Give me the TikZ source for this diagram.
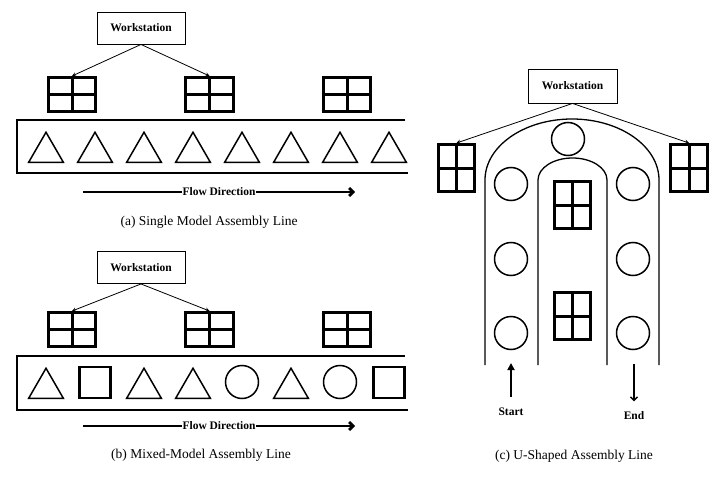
\documentclass[tikz,border=0pt]{standalone}
\usepackage{fontspec}
\setmainfont{Liberation Serif}
\usetikzlibrary{shapes,arrows,arrows.meta,positioning,calc}

\begin{document}
\begin{tikzpicture}[
    x=1pt, y=1pt,
    wsbox/.style={rectangle, draw, line width=0.9pt, minimum width=88pt, minimum height=32pt, font=\fontsize{11.5}{13}\selectfont\bfseries},
    station/.style={rectangle, draw, line width=3pt, minimum width=47.5pt, minimum height=34pt, inner sep=0pt,
        path picture={\draw[line width=3pt] (path picture bounding box.north) -- (path picture bounding box.south)
                      (path picture bounding box.west) -- (path picture bounding box.east);}},
    tstation/.style={station, minimum width=36.5pt, minimum height=47pt},
    tri/.style={regular polygon, regular polygon sides=3, draw, line width=1.5pt, minimum size=40pt, inner sep=0pt, anchor=side 2},
    sq/.style={rectangle, draw, line width=2.7pt, minimum size=31pt, inner sep=0pt},
    part/.style={circle, draw, line width=1.5pt, minimum size=33pt, inner sep=0pt},
    belt/.style={line width=2.8pt},
    lane/.style={line width=1.3pt},
    arrow/.style={->,>=stealth, line width=0.8pt},
    flow/.style={-{Straight Barb[length=4pt,width=8pt]}, line width=2.8pt},
    lbl/.style={font=\fontsize{11.5}{13}\selectfont\bfseries},
    caption/.style={font=\fontsize{13.5}{15}\selectfont}
]
\useasboundingbox (0,0) rectangle (723,-487);

% (a) Single model line
\node[wsbox] (wsA) at (141,-28) {Workstation};
\node[station] (sA1) at (72,-94.5) {};
\node[station] (sA2) at (209.5,-94.5) {};
\node[station] (sA3) at (347,-94.5) {};
\draw[arrow] (wsA.south) -- (sA1.north);
\draw[arrow] (wsA.south) -- (sA2.north);
\draw[belt] (405,-120) -| (17,-173) -- (408,-173);
\foreach \i in {0,...,7} {
    \node[tri] (tA\i) at (46+49*\i,-163) {};
}
\coordinate (fA0) at (83,-192);
\coordinate (fA1) at (355,-192);
\draw[flow] (fA0) -- node[lbl, fill=white, inner sep=0.3pt] {Flow Direction} (fA1);
\node[caption] (capA) at (209,-222) {(a) Single Model Assembly Line};

% (b) Mixed-model line
\node[wsbox] (wsB) at (141,-267.5) {Workstation};
\node[station] (sB1) at (72,-329.5) {};
\node[station] (sB2) at (209.5,-329.5) {};
\node[station] (sB3) at (347,-329.5) {};
\draw[arrow] (wsB.south) -- (sB1.north);
\draw[arrow] (wsB.south) -- (sB2.north);
\draw[belt] (405,-356) -| (17,-410) -- (408,-410);
\foreach \i/\kind in {0/tri, 2/tri, 3/tri, 5/tri} {
    \node[\kind] (pB\i) at (46+49*\i,-399) {};
}
\foreach \i in {1,7} {
    \node[sq] (pB\i) at (46+49*\i,-382.5) {};
}
\foreach \i in {4,6} {
    \node[part] (pB\i) at (46+49*\i,-382) {};
}
\coordinate (fB0) at (83,-426);
\coordinate (fB1) at (355,-426);
\draw[flow] (fB0) -- node[lbl, fill=white, inner sep=0.3pt] {Flow Direction} (fB1);
\node[caption] (capB) at (201,-455) {(b) Mixed-Model Assembly Line};

% (c) U-shaped line
\node[wsbox, minimum width=89pt, minimum height=34pt] (wsC) at (572.5,-86) {Workstation};
\node[tstation] (sCl) at (456.5,-168) {};
\node[tstation] (sCr) at (689,-168) {};
\node[tstation] (sCm1) at (572.5,-205) {};
\node[tstation] (sCm2) at (572.5,-316) {};
\draw[arrow] (wsC.south) -- (sCl.north);
\draw[arrow] (wsC.south) -- (sCr.north);

% lanes
\draw[lane] (485,-365) -- (485,-180) arc (180:0:87 and 61) -- (659,-365);
\draw[lane] (538,-365) -- (538,-180) arc (180:0:34.5 and 22) -- (607,-365);

% parts on the U
\node[part] (cTop) at (568,-139) {};
\foreach \y [count=\k] in {184,259,333} {
    \node[part] (cL\k) at (511,-\y) {};
    \node[part] (cR\k) at (633,-\y) {};
}

% start / end
\node[lbl] (start) at (511,-412) {Start};
\node[lbl] (end) at (634,-416) {End};
\coordinate (startTip) at (511,-363);
\coordinate (endTail) at (634,-364);
\draw[-{Triangle[length=7pt,width=7pt]}, line width=2.8pt, shorten <=8pt] (start.north) -- (startTip);
\draw[-{Straight Barb[length=3.5pt,width=7pt]}, line width=1.5pt, shorten >=7pt] (endTail) -- (end.north);

\node[caption] (capC) at (574,-456) {(c) U-Shaped Assembly Line};

\end{tikzpicture}
\end{document}
